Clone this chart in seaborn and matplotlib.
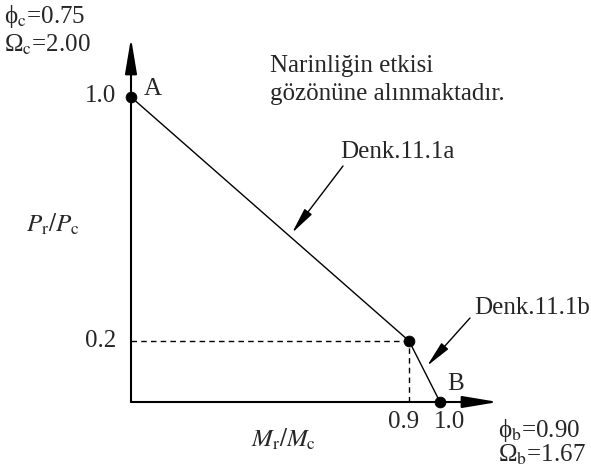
import matplotlib
matplotlib.use("Agg")
import matplotlib.pyplot as plt
import seaborn as sns
import pandas as pd

# data
mr_mc = [0.0, 0.9, 1.0]
pr_pc = [1.0, 0.2, 0.0]
point_labels = ["A", "", "B"]
x_ticks = [0.9, 1.0]
y_ticks = [1.0, 0.2]

sns.set_theme(style="white")
plt.rcParams['font.family'] = ['Liberation Serif', 'DejaVu Serif']
plt.rcParams['mathtext.fontset'] = 'stix'

W, H = 591, 472
x0, xs = 131, 309.0
y0, ys = 402, 305.0

fig = plt.figure(figsize=(W/100, H/100), dpi=100)
ax = fig.add_axes([0, 0, 1, 1])
ax.set_xlim(-x0/xs, (W-x0)/xs)
ax.set_ylim(-(H-y0)/ys, y0/ys)
ax.axis('off')

def px(x):
    return (x - x0)/xs
def py(y):
    return (y0 - y)/ys

df = pd.DataFrame({"x": mr_mc, "y": pr_pc})
sns.lineplot(data=df, x="x", y="y", color="black", lw=1.0, sort=False,
             estimator=None, ax=ax, legend=False)
sns.scatterplot(data=df, x="x", y="y", color="black", s=60, zorder=5,
                edgecolor="black", ax=ax, legend=False)

# dashed guides
ax.plot([0, mr_mc[1]], [pr_pc[1], pr_pc[1]], ls=(0, (4, 3)), color="black", lw=1.0)
ax.plot([mr_mc[1], mr_mc[1]], [0, pr_pc[1]], ls=(0, (4, 3)), color="black", lw=1.0)

# axes with arrows
ax.annotate("", xy=(px(498), 0), xytext=(0, 0),
            arrowprops=dict(arrowstyle="-|>,head_length=1.8,head_width=0.3",
                            mutation_scale=12, color="black", lw=1.5, shrinkA=0, shrinkB=0))
ax.annotate("", xy=(0, py(38)), xytext=(0, 0),
            arrowprops=dict(arrowstyle="-|>,head_length=1.8,head_width=0.3",
                            mutation_scale=12, color="black", lw=1.5, shrinkA=0, shrinkB=0))

fs = 18
ytick_base = {1.0: 102, 0.2: 347}
for v in y_ticks:
    ax.text(px(116), py(ytick_base[v]), f"{v:.1f}", ha="right", va="baseline", fontsize=fs)
xtick_cx = {0.9: 404, 1.0: 449}
for v in x_ticks:
    ax.text(px(xtick_cx[v]), py(428), f"{v:.1f}", ha="center", va="baseline", fontsize=fs)

ax.text(px(144), py(95), point_labels[0], ha="left", va="baseline", fontsize=fs)
ax.text(px(447), py(390), point_labels[2], ha="left", va="baseline", fontsize=fs)

ax.text(px(270), py(72), "Narinliğin etkisi", ha="left", va="baseline", fontsize=fs)
ax.text(px(270), py(100), "gözönüne alınmaktadır.", ha="left", va="baseline", fontsize=fs)

ax.text(px(340), py(158), "Denk.11.1a", ha="left", va="baseline", fontsize=fs)
ax.annotate("", xy=(px(292), py(233)), xytext=(px(343), py(166)),
            arrowprops=dict(arrowstyle="-|>,head_length=2.0,head_width=0.35",
                            mutation_scale=8, color="black", lw=1.0, shrinkA=0, shrinkB=0))
ax.text(px(474), py(314), "Denk.11.1b", ha="left", va="baseline", fontsize=fs)
ax.annotate("", xy=(px(427), py(366)), xytext=(px(470), py(318)),
            arrowprops=dict(arrowstyle="-|>,head_length=2.0,head_width=0.35",
                            mutation_scale=8, color="black", lw=1.0, shrinkA=0, shrinkB=0))

ax.text(px(26), py(232), r"$P_{\rm r}/P_{\rm c}$", ha="left", va="baseline", fontsize=fs)
ax.text(px(284), py(447), r"$M_{\rm r}/M_{\rm c}$", ha="center", va="baseline", fontsize=fs)

ax.text(px(4), py(23), r"ϕ$_{\rm c}$=0.75", ha="left", va="baseline", fontsize=fs)
ax.text(px(4), py(52), r"Ω$_{\rm c}$=2.00", ha="left", va="baseline", fontsize=fs)
ax.text(px(498), py(437), r"ϕ$_{\rm b}$=0.90", ha="left", va="baseline", fontsize=fs)
ax.text(px(498), py(462), r"Ω$_{\rm b}$=1.67", ha="left", va="baseline", fontsize=fs)

fig.savefig("out.png", dpi=100)
